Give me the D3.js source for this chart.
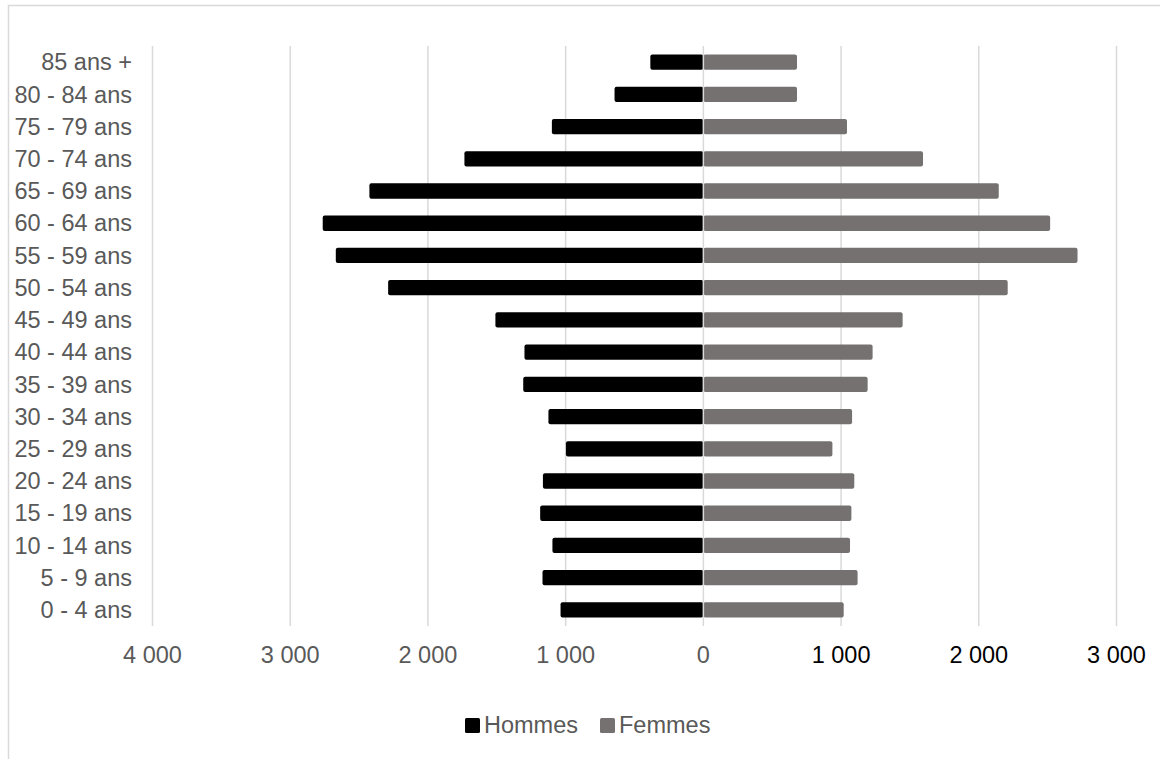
<!DOCTYPE html>
<html>
<head>
<meta charset="utf-8">
<script src="https://cdn.jsdelivr.net/npm/d3@7"></script>
<style>
  body { margin: 0; background: #fff; }
  svg { display: block; font-family: "Liberation Sans", Arial, sans-serif; }
</style>
</head>
<body>
<svg id="chart"></svg>
<script>
// tranches d'âge, du haut vers le bas
const ages = ['85 ans +', '80 - 84 ans', '75 - 79 ans', '70 - 74 ans', '65 - 69 ans', '60 - 64 ans',
  '55 - 59 ans', '50 - 54 ans', '45 - 49 ans', '40 - 44 ans', '35 - 39 ans', '30 - 34 ans',
  '25 - 29 ans', '20 - 24 ans', '15 - 19 ans', '10 - 14 ans', '5 - 9 ans', '0 - 4 ans'];
const hommes = [385, 645, 1100, 1735, 2425, 2764, 2669, 2289, 1510, 1299, 1308, 1125, 998, 1165, 1185, 1096, 1168, 1037];
const femmes = [680, 680, 1043, 1595, 2145, 2518, 2717, 2210, 1447, 1229, 1193, 1080, 937, 1096, 1075, 1065, 1120, 1019];
const xTicks = [-4000, -3000, -2000, -1000, 0, 1000, 2000, 3000];
const series = ['Hommes', 'Femmes'];
const colors = ['#000000', '#767171'];

const width = 1160;
const height = 759;
const fontSize = '23.5px';
const textColor = '#595959';

const svg = d3.select('#chart')
  .attr('width', width)
  .attr('height', height);

// cadre du graphique (seuls les bords haut et gauche sont visibles)
svg.append('rect')
  .attr('x', 8.5)
  .attr('y', 5.5)
  .attr('width', 1200)
  .attr('height', 800)
  .attr('fill', '#fff')
  .attr('stroke', '#d9d9d9')
  .attr('stroke-width', 1.5);

const x = d3.scaleLinear()
  .domain([-4000, 3000])
  .range([152.5, 1116.5]);

const y = d3.scaleBand()
  .domain(ages)
  .range([46, 626])
  .paddingInner(0.525)
  .paddingOuter(0.2625);

const fmt = d3.formatLocale({ decimal: ',', thousands: ' ', grouping: [3], currency: ['', ''] }).format(',');

// grille verticale
svg.append('g')
  .selectAll('line')
  .data(xTicks.filter(d => d !== 0))
  .enter().append('line')
  .attr('x1', d => x(d))
  .attr('x2', d => x(d))
  .attr('y1', 46)
  .attr('y2', 626)
  .attr('stroke', '#d9d9d9')
  .attr('stroke-width', 1.5);

// barres hommes (à gauche)
svg.append('g')
  .selectAll('rect')
  .data(ages)
  .enter().append('rect')
  .attr('x', (d, i) => x(-hommes[i]))
  .attr('y', d => y(d))
  .attr('width', (d, i) => x(0) - x(-hommes[i]))
  .attr('height', y.bandwidth())
  .attr('rx', 2)
  .attr('fill', colors[0]);

// barres femmes (à droite)
svg.append('g')
  .selectAll('rect')
  .data(ages)
  .enter().append('rect')
  .attr('x', x(0))
  .attr('y', d => y(d))
  .attr('width', (d, i) => x(femmes[i]) - x(0))
  .attr('height', y.bandwidth())
  .attr('rx', 2)
  .attr('fill', colors[1]);

// axe vertical à 0, par-dessus les barres
svg.append('line')
  .attr('x1', x(0))
  .attr('x2', x(0))
  .attr('y1', 46)
  .attr('y2', 626)
  .attr('stroke', '#d9d9d9')
  .attr('stroke-width', 1.5);

// libellés des tranches d'âge
svg.append('g')
  .selectAll('text')
  .data(ages)
  .enter().append('text')
  .attr('x', 132)
  .attr('y', d => y(d) + y.bandwidth() / 2)
  .attr('dy', '0.35em')
  .attr('text-anchor', 'end')
  .attr('font-size', fontSize)
  .attr('fill', textColor)
  .text(d => d);

// libellés de l'axe horizontal
svg.append('g')
  .selectAll('text')
  .data(xTicks)
  .enter().append('text')
  .attr('x', d => x(d))
  .attr('y', 663)
  .attr('text-anchor', 'middle')
  .attr('font-size', fontSize)
  .attr('fill', d => d > 0 ? '#000' : textColor)
  .text(d => fmt(Math.abs(d)));

// légende
const legendX = [465, 600];
const legend = svg.append('g')
  .selectAll('g')
  .data(series)
  .enter().append('g')
  .attr('transform', (d, i) => `translate(${legendX[i]},718)`);

legend.append('rect')
  .attr('width', 15)
  .attr('height', 15)
  .attr('rx', 1.5)
  .attr('fill', (d, i) => colors[i]);

legend.append('text')
  .attr('x', 19)
  .attr('y', 15)
  .attr('font-size', fontSize)
  .attr('fill', textColor)
  .text(d => d);
</script>
</body>
</html>
